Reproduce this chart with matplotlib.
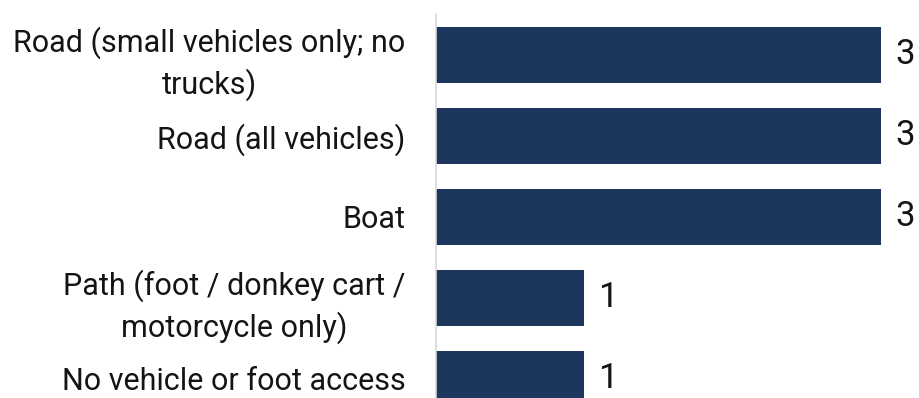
import numpy as np
import matplotlib
matplotlib.use('Agg')
from matplotlib import pyplot as plt

# access types and number of sites for each
categories = ['Road (small vehicles only; no\ntrucks)',
              'Road (all vehicles)',
              'Boat',
              'Path (foot / donkey cart /\nmotorcycle only)',
              'No vehicle or foot access']
counts = [3, 3, 3, 1, 1]

bar_color = '#1c365e'
text_color = '#141414'

plt.rcParams['font.family'] = ['Roboto', 'DejaVu Sans']

fig = plt.figure(figsize=(9.2, 3.98), dpi=100)
# axes runs off the bottom edge so the last bar is cut like in the export
ax = fig.add_axes([0.4739, -0.054, 0.5261, 1.0176])

y = np.arange(len(categories))
ax.barh(y, counts, height=0.69, color=bar_color)

for yi, c in zip(y, counts):
    ax.text(c + 0.095, yi, f'{c}', va='center', ha='left',
            fontsize=25, color=text_color)

ax.set_xlim(0, 3.263)
ax.set_ylim(len(categories) - 0.5, -0.5)
ax.set_yticks(y)
ax.set_yticklabels(categories, fontsize=22, color=text_color,
                   multialignment='center', linespacing=1.38)
ax.tick_params(axis='y', length=0, pad=22)
ax.set_xticks([])

for side in ['top', 'right', 'bottom']:
    ax.spines[side].set_visible(False)
ax.spines['left'].set_color('#d9d9d9')
ax.spines['left'].set_linewidth(1.2)

fig.savefig('out.png', dpi=100)
